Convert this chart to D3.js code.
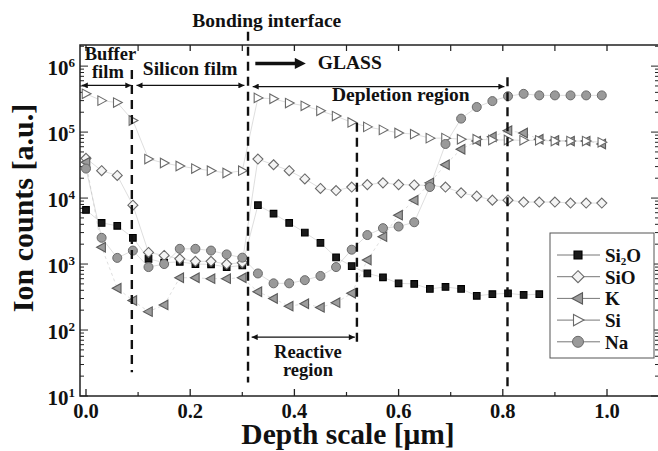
<!DOCTYPE html>
<html>
<head>
<meta charset="utf-8">
<script src="https://cdn.jsdelivr.net/npm/d3@7"></script>
<style>
  body { margin: 0; background: #fff; }
  svg text { font-family: "Liberation Serif", "Times New Roman", "DejaVu Serif", serif; font-weight: bold; fill: #111; }
</style>
</head>
<body>
<div id="chart"></div>
<script>
// depth positions of the SIMS points [um]
var depth = [0.00, 0.03, 0.06, 0.09, 0.12, 0.15, 0.18, 0.21, 0.24, 0.27, 0.30,
             0.33, 0.36, 0.39, 0.42, 0.45, 0.48, 0.51, 0.54, 0.57, 0.60, 0.63,
             0.66, 0.69, 0.72, 0.75, 0.78, 0.81, 0.84, 0.87, 0.90, 0.93, 0.96, 0.99];

// ion counts
var si2o = [6600, 4200, 3800, 2500, 1200, 1050, 1080, 1000, 990, 900, 950,
            7800, 5800, 4200, 3000, 2100, 1260, 930, 720, 630, 510, 500,
            420, 450, 420, 330, 350, 360, 340, 350];
var sio = [40000, 26000, 22000, 7800, 1500, 1350, 1200, 1100, 1100, 1000, 1050,
           39000, 32000, 26000, 19500, 14000, 13000, 14700, 16000, 17000, 16000, 15800,
           15500, 14700, 12000, 10700, 9300, 9300, 8700, 8700, 8700, 8400, 8400, 8400];
var k = [35000, 1800, 430, 280, 190, 240, 620, 620, 600, 600, 620,
         380, 300, 230, 250, 220, 260, 360, 1150, 2600, 5500, 9300,
         17000, 32000, 55000, 73000, 85000, 105000, 97000, 78000, 75000, 73000, 73000, 66000];
var si = [380000, 300000, 280000, 150000, 39000, 34000, 30600, 28000, 26000, 24000, 26000,
          330000, 320000, 275000, 250000, 210000, 175000, 140000, 120000, 108000, 97000, 93000,
          81000, 81000, 78000, 78000, 76000, 76000, 75000, 75000, 73000, 73000, 73000, 70000];
var na = [28000, 2500, 1240, 1600, 900, 1000, 1700, 1700, 1600, 1400, 1250,
          720, 510, 510, 570, 660, 900, 1650, 2750, 3500, 3700, 4300,
          14700, 66000, 160000, 240000, 295000, 350000, 380000, 360000, 360000, 360000, 360000, 360000];

var seriesNames = ["Si2O", "SiO", "K", "Si", "Na"];
var seriesValues = [si2o, sio, k, si, na];

var xTicks = [0, 0.2, 0.4, 0.6, 0.8, 1.0];
var xMinorTicks = [0.1, 0.3, 0.5, 0.7, 0.9];
var yDecades = [1, 2, 3, 4, 5, 6];

var w = 658, h = 451;

var x = d3.scaleLinear().domain([-0.0115, 1.0998]).range([80, 659]);
var y = d3.scaleLog().domain([10, Math.pow(10, 6.32)]).range([396, 45]);

var svg = d3.select("#chart").append("svg")
  .attr("width", w)
  .attr("height", h);

// arrow heads
var defs = svg.append("defs");
defs.append("marker")
  .attr("id", "head")
  .attr("viewBox", "0 0 10 10")
  .attr("refX", 10).attr("refY", 5)
  .attr("markerWidth", 9).attr("markerHeight", 6)
  .attr("markerUnits", "userSpaceOnUse")
  .attr("orient", "auto-start-reverse")
  .append("path").attr("d", "M0,0L10,5L0,10Z").attr("fill", "#111");
defs.append("marker")
  .attr("id", "bighead")
  .attr("viewBox", "0 0 10 10")
  .attr("refX", 2).attr("refY", 5)
  .attr("markerWidth", 16).attr("markerHeight", 11)
  .attr("markerUnits", "userSpaceOnUse")
  .attr("orient", "auto")
  .append("path").attr("d", "M0,0L10,5L0,10Z").attr("fill", "#111");

// marker shapes
function shapePath(name, s) {
  if (name == "Si2O") return "M" + (-s) + "," + (-s) + "h" + 2 * s + "v" + 2 * s + "h" + (-2 * s) + "Z";
  if (name == "SiO") return "M0," + (-s) + "L" + s + ",0L0," + s + "L" + (-s) + ",0Z";
  if (name == "K") return "M" + (-s) + ",0L" + 0.75 * s + "," + (-0.95 * s) + "L" + 0.75 * s + "," + 0.95 * s + "Z";
  if (name == "Si") return "M" + s + ",0L" + (-0.75 * s) + "," + (-0.95 * s) + "L" + (-0.75 * s) + "," + 0.95 * s + "Z";
  return null;
}
var styles = {
  "Si2O": { fill: "#1a1a1a", stroke: "#000", size: 3.3 },
  "SiO": { fill: "#f4f4f4", stroke: "#6a6a6a", size: 5 },
  "K": { fill: "#9c9c9c", stroke: "#5a5a5a", size: 5 },
  "Si": { fill: "#fff", stroke: "#6a6a6a", size: 5 },
  "Na": { fill: "#9a9a9a", stroke: "#6a6a6a", size: 4.5 }
};

// frame
var frame = svg.append("g");
frame.append("rect")
  .attr("x", x.range()[0]).attr("y", y.range()[1])
  .attr("width", x.range()[1] - x.range()[0])
  .attr("height", y.range()[0] - y.range()[1])
  .attr("fill", "none").attr("stroke", "#222").attr("stroke-width", 1.5);

// bottom / top ticks
xTicks.forEach(function(t) {
  frame.append("line").attr("x1", x(t)).attr("x2", x(t))
    .attr("y1", y.range()[0]).attr("y2", y.range()[0] - 7)
    .attr("stroke", "#222").attr("stroke-width", 1.3);
  frame.append("line").attr("x1", x(t)).attr("x2", x(t))
    .attr("y1", y.range()[1]).attr("y2", y.range()[1] + 6)
    .attr("stroke", "#222").attr("stroke-width", 1.3);
});
xMinorTicks.forEach(function(t) {
  frame.append("line").attr("x1", x(t)).attr("x2", x(t))
    .attr("y1", y.range()[0]).attr("y2", y.range()[0] - 4)
    .attr("stroke", "#222").attr("stroke-width", 1.2);
  frame.append("line").attr("x1", x(t)).attr("x2", x(t))
    .attr("y1", y.range()[1]).attr("y2", y.range()[1] + 6)
    .attr("stroke", "#222").attr("stroke-width", 1.2);
});

svg.append("g").selectAll("text")
  .data(xTicks).enter().append("text")
  .attr("x", function(d) { return x(d); })
  .attr("y", 418)
  .attr("text-anchor", "middle")
  .attr("font-size", 20.5)
  .text(function(d) { return d3.format(".1f")(d); });

// left / right log ticks
var yTickVals = y.ticks();
yTickVals.forEach(function(t) {
  var major = Math.abs(Math.log10(t) - Math.round(Math.log10(t))) < 1e-6;
  var len = major ? 8 : 4;
  frame.append("line").attr("x1", x.range()[0]).attr("x2", x.range()[0] + len)
    .attr("y1", y(t)).attr("y2", y(t)).attr("stroke", "#222").attr("stroke-width", 1);
  frame.append("line").attr("x1", x.range()[1]).attr("x2", x.range()[1] - len)
    .attr("y1", y(t)).attr("y2", y(t)).attr("stroke", "#222").attr("stroke-width", 1);
});

var ylab = svg.append("g").selectAll("text")
  .data(yDecades).enter().append("text")
  .attr("x", 75)
  .attr("y", function(d) { return y(Math.pow(10, d)) + 9; })
  .attr("text-anchor", "end")
  .attr("font-size", 21);
ylab.append("tspan").text("10");
ylab.append("tspan").attr("font-size", 13).attr("dy", -8).text(function(d) { return d; });

// axis titles
svg.append("text")
  .attr("transform", "translate(33,208) rotate(-90)")
  .attr("text-anchor", "middle")
  .attr("font-size", 30)
  .text("Ion counts [a.u.]");
svg.append("text")
  .attr("x", 348).attr("y", 444)
  .attr("text-anchor", "middle")
  .attr("font-size", 29.5)
  .text("Depth scale [\u03bcm]");

// connecting lines (faint in the original)
var plot = svg.append("g");
seriesNames.forEach(function(name, si_) {
  var vals = seriesValues[si_];
  var pts = vals.map(function(v, i) { return [depth[i], v]; });
  plot.append("path")
    .datum(pts)
    .attr("fill", "none")
    .attr("stroke", "#bdbdbd")
    .attr("stroke-width", 0.5)
    .attr("stroke-dasharray", name == "K" ? "3,3" : null)
    .attr("d", d3.line().x(function(d) { return x(d[0]); }).y(function(d) { return y(d[1]); }));
});

// vertical dashed boundaries [depth, top count, bottom count]
var boundaries = [
  [0.088, Math.pow(10, 5.94), 23],
  [0.311, Math.pow(10, 6.52), 16],
  [0.520, 138000, 59],
  [0.809, Math.pow(10, 5.83), 11.5]
];
svg.append("g").selectAll("line")
  .data(boundaries).enter().append("line")
  .attr("x1", function(d) { return x(d[0]); })
  .attr("x2", function(d) { return x(d[0]); })
  .attr("y1", function(d) { return y(d[1]); })
  .attr("y2", function(d) { return y(d[2]); })
  .attr("stroke", "#111")
  .attr("stroke-width", 2.4)
  .attr("stroke-dasharray", "9,6");

// markers
seriesNames.forEach(function(name, si_) {
  var st = styles[name];
  var g = plot.append("g");
  var vals = seriesValues[si_];
  if (name == "Na") {
    g.selectAll("circle").data(vals).enter().append("circle")
      .attr("cx", function(d, i) { return x(depth[i]); })
      .attr("cy", function(d) { return y(d); })
      .attr("r", st.size)
      .attr("fill", st.fill).attr("stroke", st.stroke).attr("stroke-width", 1);
  } else {
    g.selectAll("path").data(vals).enter().append("path")
      .attr("transform", function(d, i) { return "translate(" + x(depth[i]) + "," + y(d) + ")"; })
      .attr("d", shapePath(name, st.size))
      .attr("fill", st.fill).attr("stroke", st.stroke).attr("stroke-width", 1.1);
  }
});

// double arrows for regions [from, to, count]
var spans = [
  [-0.008, 0.087, 510000],
  [0.097, 0.304, 510000],
  [0.320, 0.803, 490000],
  [0.318, 0.516, 78]
];
svg.append("g").selectAll("line")
  .data(spans).enter().append("line")
  .attr("x1", function(d) { return x(d[0]); })
  .attr("x2", function(d) { return x(d[1]); })
  .attr("y1", function(d) { return y(d[2]); })
  .attr("y2", function(d) { return y(d[2]); })
  .attr("stroke", "#111").attr("stroke-width", 1.2)
  .attr("marker-start", "url(#head)")
  .attr("marker-end", "url(#head)");

// GLASS arrow
svg.append("line")
  .attr("x1", x(0.325)).attr("x2", x(0.405))
  .attr("y1", y(1100000)).attr("y2", y(1100000))
  .attr("stroke", "#111").attr("stroke-width", 3.5)
  .attr("marker-end", "url(#bighead)");

// annotation texts [text, depth, count, anchor, size]
var notes = [
  ["Bonding interface", 0.347, Math.pow(10, 6.59), "middle", 19.5],
  ["Buffer", 0.047, Math.pow(10, 6.095), "middle", 18.5],
  ["film", 0.042, Math.pow(10, 5.825), "middle", 18.5],
  ["Silicon film", 0.200, Math.pow(10, 5.86), "middle", 19.5],
  ["GLASS", 0.445, Math.pow(10, 5.955), "start", 19.5],
  ["Depletion region", 0.472, Math.pow(10, 5.47), "start", 19.5],
  ["Reactive", 0.426, Math.pow(10, 1.575), "middle", 18.5],
  ["region", 0.426, Math.pow(10, 1.30), "middle", 18.5]
];
svg.append("g").selectAll("text")
  .data(notes).enter().append("text")
  .attr("x", function(d) { return x(d[1]); })
  .attr("y", function(d) { return y(d[2]); })
  .attr("text-anchor", function(d) { return d[3]; })
  .attr("font-size", function(d) { return d[4]; })
  .text(function(d) { return d[0]; });

// legend
var legend = svg.append("g").attr("transform", "translate(550,233)");
legend.append("rect")
  .attr("width", 104).attr("height", 125)
  .attr("fill", "#fff").attr("stroke", "#555").attr("stroke-width", 1);
var items = legend.selectAll("g.item")
  .data(seriesNames).enter().append("g")
  .attr("transform", function(d, i) { return "translate(0," + (22 + i * 21.7) + ")"; });
items.append("line")
  .attr("x1", 7).attr("x2", 50)
  .attr("stroke", "#777").attr("stroke-width", 1);
items.each(function(name) {
  var st = styles[name];
  var g = d3.select(this);
  if (name == "Na") {
    g.append("circle").attr("cx", 28).attr("r", 5.5)
      .attr("fill", st.fill).attr("stroke", st.stroke);
  } else {
    g.append("path").attr("transform", "translate(28,0)")
      .attr("d", shapePath(name, name == "Si2O" ? 4 : 6))
      .attr("fill", st.fill).attr("stroke", st.stroke).attr("stroke-width", 1.1);
  }
  var t = g.append("text").attr("x", 55).attr("y", 7).attr("font-size", 19);
  if (name == "Si2O") {
    t.append("tspan").text("Si");
    t.append("tspan").attr("font-size", 11).attr("dy", 3).text("2");
    t.append("tspan").attr("dy", -3).text("O");
  } else {
    t.text(name);
  }
});
</script>
</body>
</html>
